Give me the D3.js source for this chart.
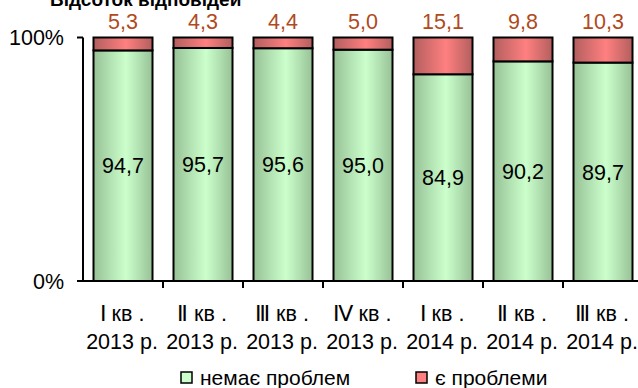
<!DOCTYPE html>
<html>
<head>
<meta charset="utf-8">
<script src="https://cdn.jsdelivr.net/npm/d3@7"></script>
<style>
  html, body { margin: 0; padding: 0; background: #fff; }
  svg { display: block; font-family: "Liberation Sans", Arial, sans-serif; }
</style>
</head>
<body>
<svg id="chart" width="638" height="388"></svg>
<script>
// Quarterly shares of responses, percent
const quarters = ["Ⅰ кв .", "Ⅱ кв .", "Ⅲ кв .", "Ⅳ кв .", "Ⅰ кв .", "Ⅱ кв .", "Ⅲ кв ."];
const years = ["2013 р.", "2013 р.", "2013 р.", "2013 р.", "2014 р.", "2014 р.", "2014 р."];
const noProblems = [94.7, 95.7, 95.6, 95.0, 84.9, 90.2, 89.7];
const withProblems = [5.3, 4.3, 4.4, 5.0, 15.1, 9.8, 10.3];
const seriesNames = ["немає проблем", "є проблеми"];
const yTicks = [0, 100];

const svg = d3.select("#chart");
const defs = svg.append("defs");
const fs = 21.5;

function barGradient(id, edge, mid) {
  const g = defs.append("linearGradient").attr("id", id)
    .attr("x1", "0%").attr("x2", "100%").attr("y1", "0%").attr("y2", "0%");
  g.append("stop").attr("offset", "0%").attr("stop-color", edge);
  g.append("stop").attr("offset", "55%").attr("stop-color", mid);
  g.append("stop").attr("offset", "100%").attr("stop-color", edge);
}
barGradient("gGreen", "#97c297", "#ccffcc");
barGradient("gRed", "#b45e5e", "#ff8080");

const plotLeft = 83, plotTop = 37.5, plotBottom = 281;
const ids = quarters.map((q, i) => i);

const x = d3.scaleBand().domain(ids).range([plotLeft, plotLeft + 560])
  .paddingInner(0.2625).paddingOuter(0.13125);
const y = d3.scaleLinear().domain([0, 100]).range([plotBottom, plotTop]);

// Title (partly above the visible area)
svg.append("text").attr("x", 50).attr("y", 6)
  .attr("font-size", 19).attr("font-weight", "bold").attr("fill", "#000")
  .text("Відсоток відповідей");

// Bars
const bars = svg.append("g");
ids.forEach(i => {
  const g0 = noProblems[i], r0 = withProblems[i];
  bars.append("rect")
    .attr("x", x(i)).attr("width", x.bandwidth())
    .attr("y", y(g0)).attr("height", y(0) - y(g0))
    .attr("fill", "url(#gGreen)").attr("stroke", "#000").attr("stroke-width", 2);
  bars.append("rect")
    .attr("x", x(i)).attr("width", x.bandwidth())
    .attr("y", y(g0 + r0)).attr("height", y(g0) - y(g0 + r0))
    .attr("fill", "url(#gRed)").attr("stroke", "#000").attr("stroke-width", 2);
  // value labels
  svg.append("text")
    .attr("x", x(i) + x.bandwidth() / 2)
    .attr("y", (y(g0) + y(0)) / 2)
    .attr("dy", "0.36em")
    .attr("text-anchor", "middle").attr("font-size", fs).attr("fill", "#000")
    .text(d3.format(".1f")(g0).replace(".", ","));
  svg.append("text")
    .attr("x", x(i) + x.bandwidth() / 2)
    .attr("y", 29)
    .attr("text-anchor", "middle").attr("font-size", fs).attr("fill", "#b04a1c")
    .text(d3.format(".1f")(r0).replace(".", ","));
});

// Axes
const axisG = svg.append("g");
axisG.append("line").attr("x1", plotLeft).attr("x2", plotLeft).attr("y1", plotTop).attr("y2", plotBottom)
  .attr("stroke", "#000").attr("stroke-width", 2);
axisG.append("line").attr("x1", plotLeft - 6).attr("x2", 640).attr("y1", plotBottom).attr("y2", plotBottom)
  .attr("stroke", "#000").attr("stroke-width", 2);
yTicks.forEach(t => {
  axisG.append("line").attr("x1", plotLeft - 6).attr("x2", plotLeft).attr("y1", y(t)).attr("y2", y(t))
    .attr("stroke", "#000").attr("stroke-width", 2);
  axisG.append("text").attr("x", 64).attr("y", y(t)).attr("dy", "0.36em")
    .attr("text-anchor", "end").attr("font-size", fs).attr("fill", "#000")
    .text(t + "%");
});
const step = x.step();
d3.range(1, quarters.length).forEach(k => {
  const xx = plotLeft + k * step;
  axisG.append("line").attr("x1", xx).attr("x2", xx).attr("y1", plotBottom).attr("y2", plotBottom + 7)
    .attr("stroke", "#000").attr("stroke-width", 2);
});
ids.forEach(i => {
  const cx = x(i) + x.bandwidth() / 2;
  const t = svg.append("text").attr("text-anchor", "middle").attr("font-size", fs).attr("fill", "#000");
  t.append("tspan").attr("x", cx - 1).attr("y", 321).text(quarters[i]);
  t.append("tspan").attr("x", cx - 1).attr("y", 349).text(years[i]);
});

// Legend
const legend = [
  { name: seriesNames[0], fill: "#ccffcc", x: 181 },
  { name: seriesNames[1], fill: "#ff8080", x: 416 }
];
legend.forEach(l => {
  svg.append("rect").attr("x", l.x).attr("y", 372).attr("width", 11).attr("height", 11)
    .attr("fill", l.fill).attr("stroke", "#000").attr("stroke-width", 1.5);
  svg.append("text").attr("x", l.x + 19).attr("y", 384.5)
    .attr("font-size", 21).attr("fill", "#000").text(l.name);
});
</script>
</body>
</html>
